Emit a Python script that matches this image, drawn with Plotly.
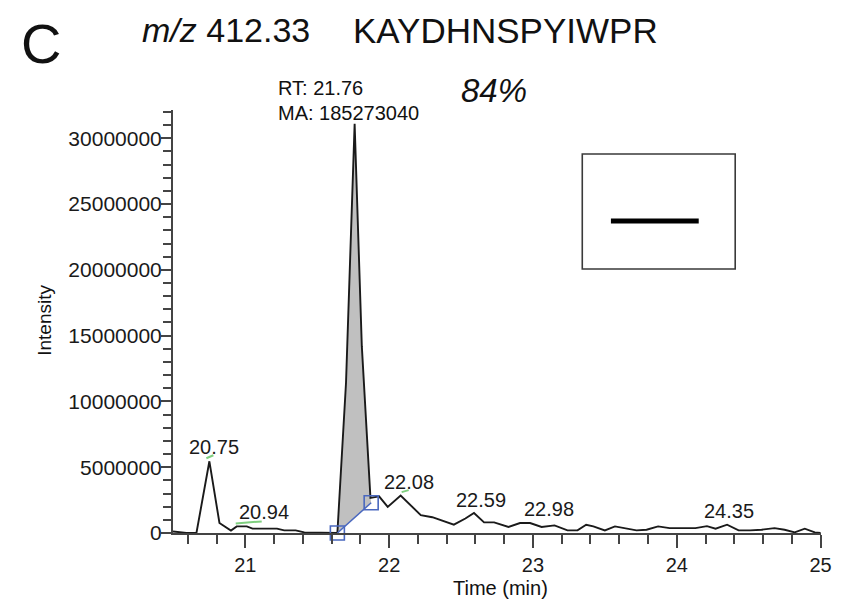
import plotly.graph_objects as go

# ---- data ----
time_min = [20.497, 20.59, 20.66, 20.75, 20.82, 20.90, 20.94, 21.01, 21.05, 21.13, 21.22,
            21.27, 21.35, 21.41, 21.50, 21.58, 21.64, 21.70, 21.76, 21.81, 21.87,
            21.93, 21.99, 22.08, 22.14, 22.22, 22.30, 22.45, 22.53, 22.59, 22.66,
            22.73, 22.83, 22.91, 22.98, 23.06, 23.15, 23.24, 23.31, 23.37, 23.42,
            23.50, 23.57, 23.65, 23.72, 23.79, 23.87, 23.95, 24.04, 24.13, 24.21,
            24.27, 24.35, 24.43, 24.51, 24.59, 24.68, 24.75, 24.82, 24.89, 24.96, 25.0]
intensity = [120000, 0, 0, 5450000, 760000, 180000, 500000, 500000, 330000, 330000, 330000,
             200000, 200000, 50000, 30000, 20000, 0, 11400000, 31100000, 14200000, 2670000,
             2790000, 1980000, 2840000, 2200000, 1360000, 1200000, 630000, 1100000, 1520000, 810000,
             810000, 460000, 760000, 760000, 460000, 580000, 200000, 200000, 630000, 500000,
             200000, 500000, 370000, 200000, 250000, 500000, 370000, 370000, 370000, 520000,
             330000, 630000, 200000, 200000, 250000, 370000, 250000, 50000, 330000, 50000, 0]

# integrated peak and its baseline
peak_start, peak_end = 21.64, 21.87
baseline_time = [21.64, 21.875]
baseline_intensity = [0, 2300000]

# labelled apexes
label_text = ["20.75", "20.94", "22.08", "22.59", "22.98", "24.35"]
label_time = [20.75, 20.94, 22.08, 22.59, 22.98, 24.35]
green_marked = ["20.75", "20.94", "22.08"]

title_mz = "<i>m/z</i> 412.33"
title_pep = "KAYDHNSPYIWPR"
panel = "C"
rt_text = "RT: 21.76"
ma_text = "MA: 185273040"
pct_text = "<i>84%</i>"

FONT = "Liberation Sans, Arial, sans-serif"
AX = "#444444"

fig = go.Figure()

# grey integrated area
px_ = [t for t in time_min if peak_start <= t <= peak_end]
py_ = [v for t, v in zip(time_min, intensity) if peak_start <= t <= peak_end]
fig.add_trace(go.Scatter(
    x=px_ + baseline_time[-1:], y=py_ + baseline_intensity[-1:],
    fill="toself", fillcolor="#c0c0c0", mode="lines", line=dict(width=0),
    hoverinfo="skip", showlegend=False))

# chromatogram
fig.add_trace(go.Scatter(x=time_min, y=intensity, mode="lines",
                         line=dict(color="#1a1a1a", width=1.9), showlegend=False))

# baseline with square end markers
fig.add_trace(go.Scatter(x=baseline_time, y=baseline_intensity, mode="lines+markers",
                         line=dict(color="#4a68bf", width=1.5),
                         marker=dict(symbol="square-open", size=14, color="#4a68bf",
                                     line=dict(width=1.6, color="#4a68bf")),
                         cliponaxis=False, showlegend=False))

# apex labels
shifts = {"20.75": (5, 14), "20.94": (27, 14), "22.08": (8, 14),
          "22.59": (7, 13), "22.98": (19, 14), "24.35": (2, 14)}
greens = {"20.75": (-3, 3, 4, 6), "20.94": (-1, 3, 25, 5), "22.08": (1, 3.5, 8, 5.5)}
for txt_, lt in zip(label_text, label_time):
    i = min(range(len(time_min)), key=lambda k: abs(time_min[k] - lt))
    dx, dy = shifts[txt_]
    fig.add_annotation(x=time_min[i], y=intensity[i], text=txt_, showarrow=False,
                       xshift=dx, yshift=dy, yanchor="middle",
                       font=dict(family=FONT, size=20, color="#1a1a1a"))
    if txt_ in green_marked:
        x0, y0, x1, y1 = greens[txt_]
        fig.add_shape(type="line", xref="x", yref="y", xsizemode="pixel", ysizemode="pixel",
                      xanchor=time_min[i], yanchor=intensity[i],
                      x0=x0, y0=y0, x1=x1, y1=y1,
                      line=dict(color="#7fcf7f", width=2))

# titles / texts (paper coords)
def txt(x, y, s, size, xanchor="left", angle=0):
    fig.add_annotation(x=x, y=y, xref="paper", yref="paper", text=s, showarrow=False,
                       xanchor=xanchor, yanchor="middle", textangle=angle,
                       font=dict(family=FONT, size=size, color="#111111"))

txt(-0.204, 1.158, panel, 56, "center")
txt(-0.0502, 1.189, title_mz, 34)
txt(0.274, 1.189, title_pep, 35)
txt(0.1583, 1.052, rt_text, 20)
txt(0.1583, 0.993, ma_text, 20)
txt(0.4414, 1.047, pct_text, 33)
txt(-0.1994, 0.5035, "Intensity", 19, "center", -90)
txt(0.505, -0.130, "Time (min)", 20, "center")

# inset box with black line
fig.add_shape(type="rect", xref="paper", yref="paper", x0=0.6316, x1=0.8676,
              y0=0.6241, y1=0.8960, line=dict(color="#3a3a3a", width=1.6))
fig.add_shape(type="line", xref="paper", yref="paper", x0=0.6758, x1=0.8113,
              y0=0.7376, y1=0.7376, line=dict(color="#000000", width=5))

# page body has an 8px margin: figure is sized/offset to land on the same screen pixels
fig.update_layout(
    width=836, height=596, autosize=False,
    margin=dict(l=165, r=14, t=102, b=71),
    plot_bgcolor="white", paper_bgcolor="white",
    font=dict(family=FONT, color="#1a1a1a"),
    xaxis=dict(range=[20.497, 25.003], showline=True, linecolor=AX, linewidth=2,
               ticks="outside", ticklen=13, tickwidth=1.5, tickcolor=AX,
               tick0=21, dtick=1, showgrid=False, zeroline=False,
               tickfont=dict(size=20, family=FONT, color="#1a1a1a"),
               minor=dict(tick0=21, dtick=0.2, ticks="outside", ticklen=9,
                          tickwidth=1.5, tickcolor=AX, showgrid=False)),
    yaxis=dict(range=[0, 32.15e6], showline=True, linecolor=AX, linewidth=2,
               ticks="outside", ticklen=10, tickwidth=1.5, tickcolor=AX,
               tick0=0, dtick=5e6, tickformat="d", showgrid=False, zeroline=False,
               ticklabelstandoff=-5,
               tickfont=dict(size=21, family=FONT, color="#1a1a1a"),
               minor=dict(tick0=0, dtick=1e6, ticks="outside", ticklen=8,
                          tickwidth=1.5, tickcolor=AX, showgrid=False)),
)

fig.write_html("out.html")
